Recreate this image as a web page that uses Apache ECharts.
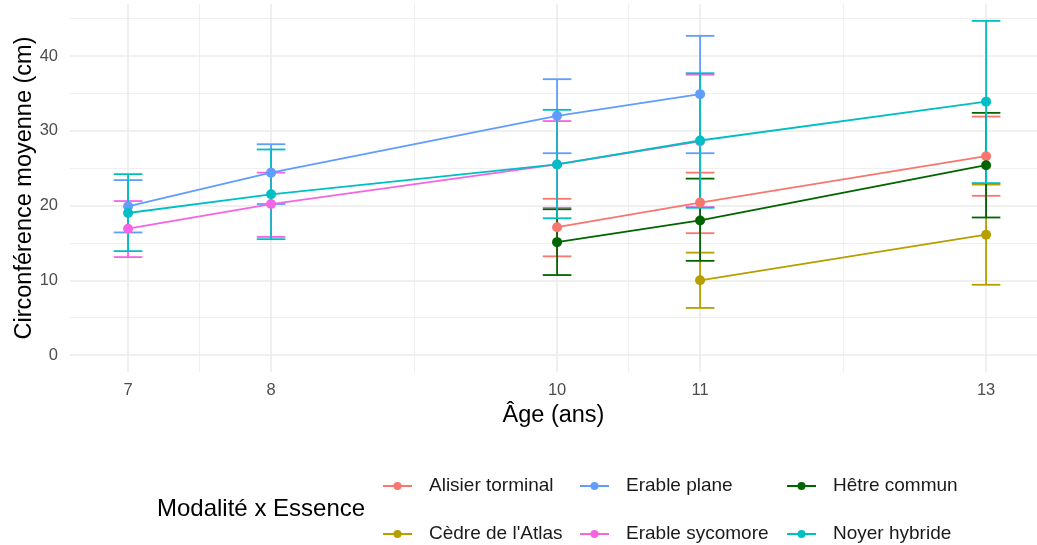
<!DOCTYPE html>
<html lang="fr">
<head>
    <meta charset="UTF-8">
    <title>Circonférence moyenne</title>
    <style>
        *{
            margin: 0;
            padding: 0;
        }
        .main{
            width: 1037px;
            height: 545px;
            background: #ffffff;
        }
    </style>
    <script src="https://cdn.jsdelivr.net/npm/echarts@6/dist/echarts.min.js"></script>
</head>
<body>
<div class="main"></div>
<script>
    // ticks and grid
    const xTicks = [7, 8, 10, 11, 13];
    const xMinor = [7.5, 9, 10.5, 12];
    const yTicks = [0, 10, 20, 30, 40];
    const yMinor = [5, 15, 25, 35, 45];

    const essences = ['Alisier torminal', "Cèdre de l'Atlas", 'Erable plane', 'Erable sycomore', 'Hêtre commun', 'Noyer hybride'];
    const colors = ['#F8766D', '#B79F00', '#619CFF', '#F564E3', '#006400', '#00BFC4'];

    // age, moyenne, borne basse, borne haute
    const alisierAge = [10, 11, 13];
    const alisierMean = [17.1, 20.4, 26.6];
    const alisierLow = [13.2, 16.3, 21.3];
    const alisierHigh = [20.9, 24.4, 31.9];

    const cedreAge = [11, 13];
    const cedreMean = [10.0, 16.1];
    const cedreLow = [6.3, 9.4];
    const cedreHigh = [13.7, 22.8];

    const planeAge = [7, 8, 10, 11];
    const planeMean = [19.9, 24.4, 32.0, 34.9];
    const planeLow = [16.4, 20.2, 27.0, 27.0];
    const planeHigh = [23.4, 28.2, 36.9, 42.7];

    const sycoAge = [7, 8, 10, 11];
    const sycoMean = [16.9, 20.2, 25.5, 28.6];
    const sycoLow = [13.1, 15.8, 19.7, 19.8];
    const sycoHigh = [20.6, 24.4, 31.3, 37.5];

    const hetreAge = [10, 11, 13];
    const hetreMean = [15.1, 18.0, 25.4];
    const hetreLow = [10.7, 12.6, 18.4];
    const hetreHigh = [19.5, 23.6, 32.4];

    const noyerAge = [7, 8, 10, 11, 13];
    const noyerMean = [19.0, 21.5, 25.5, 28.7, 33.9];
    const noyerLow = [13.9, 15.5, 18.3, 19.7, 23.0];
    const noyerHigh = [24.2, 27.5, 32.8, 37.7, 44.7];

    const groups = [
        [alisierAge, alisierMean, alisierLow, alisierHigh],
        [cedreAge, cedreMean, cedreLow, cedreHigh],
        [planeAge, planeMean, planeLow, planeHigh],
        [sycoAge, sycoMean, sycoLow, sycoHigh],
        [hetreAge, hetreMean, hetreLow, hetreHigh],
        [noyerAge, noyerMean, noyerLow, noyerHigh]
    ];

    const font = 'Liberation Sans';
    let main = document.querySelector('.main');
    let chart = echarts.init(main);

    let series = [];
    // grid lines
    series.push({
        type: 'line',
        name: 'grille',
        data: [],
        z: 1,
        markLine: {
            silent: true,
            symbol: 'none',
            label: {show: false},
            animation: false,
            data: [
                ...yTicks.map(v => ({yAxis: v, lineStyle: {color: '#EBEBEB', width: 1.6, type: 'solid'}})),
                ...yMinor.map(v => ({yAxis: v, lineStyle: {color: '#EBEBEB', width: 0.8, type: 'solid'}})),
                ...xTicks.map(v => ({xAxis: v, lineStyle: {color: '#EBEBEB', width: 1.6, type: 'solid'}})),
                ...xMinor.map(v => ({xAxis: v, lineStyle: {color: '#EBEBEB', width: 0.8, type: 'solid'}}))
            ]
        }
    });

    groups.forEach((g, i) => {
        let color = colors[i];
        series.push({
            type: 'custom',
            name: essences[i] + ' (ET)',
            z: 10 + i,
            data: g[0].map((a, k) => [a, g[2][k], g[3][k]]),
            renderItem: function (params, api) {
                let x = api.value(0);
                let top = api.coord([x, api.value(2)]);
                let bot = api.coord([x, api.value(1)]);
                let half = api.size([0.1, 0])[0];
                let style = {stroke: color, lineWidth: 1.8};
                return {
                    type: 'group',
                    children: [
                        {type: 'line', shape: {x1: top[0], y1: top[1], x2: bot[0], y2: bot[1]}, style},
                        {type: 'line', shape: {x1: top[0] - half, y1: top[1], x2: top[0] + half, y2: top[1]}, style},
                        {type: 'line', shape: {x1: bot[0] - half, y1: bot[1], x2: bot[0] + half, y2: bot[1]}, style}
                    ]
                };
            }
        });
    });

    groups.forEach((g, i) => {
        series.push({
            type: 'line',
            name: essences[i],
            z: 20 + i,
            data: g[0].map((a, k) => [a, g[1][k]]),
            symbol: 'circle',
            symbolSize: 10,
            showSymbol: true,
            color: colors[i],
            lineStyle: {width: 1.8, color: colors[i]},
            itemStyle: {color: colors[i]}
        });
    });

    const legendCommon = {
        orient: 'vertical',
        top: 476,
        padding: 0,
        itemWidth: 29,
        itemHeight: 10,
        itemGap: 28,
        selectedMode: false,
        textStyle: {fontFamily: font, fontSize: 19, color: '#1a1a1a', lineHeight: 20, padding: [0, 0, 0, 12]}
    };

    let option = {
        animation: false,
        backgroundColor: '#ffffff',
        textStyle: {fontFamily: font},
        title: {
            text: 'Modalité x Essence',
            left: 157,
            top: 497,
            padding: 0,
            textStyle: {fontFamily: font, fontSize: 24, fontWeight: 'normal', color: '#000000'}
        },
        legend: [
            Object.assign({left: 382, data: [essences[0], essences[1]]}, legendCommon),
            Object.assign({left: 579, data: [essences[2], essences[3]]}, legendCommon),
            Object.assign({left: 786, data: [essences[4], essences[5]]}, legendCommon)
        ],
        grid: {
            left: 70,
            right: 0,
            top: 4,
            bottom: 173,
            containLabel: false,
            outerBoundsMode: 'none'
        },
        xAxis: {
            type: 'value',
            min: 6.594,
            max: 13.356,
            name: 'Âge (ans)',
            nameLocation: 'middle',
            nameGap: 32,
            nameMoveOverlap: false,
            nameTextStyle: {fontFamily: font, fontSize: 23.5, color: '#000000'},
            axisLine: {show: false},
            axisTick: {show: false},
            splitLine: {show: false},
            axisLabel: {customValues: xTicks, color: '#4D4D4D', fontSize: 16.5, margin: 10, fontFamily: font}
        },
        yAxis: {
            type: 'value',
            min: -2.27,
            max: 46.96,
            name: 'Circonférence moyenne (cm)',
            nameLocation: 'middle',
            nameGap: 33,
            nameMoveOverlap: false,
            nameTextStyle: {fontFamily: font, fontSize: 23.5, color: '#000000'},
            axisLine: {show: false},
            axisTick: {show: false},
            splitLine: {show: false},
            axisLabel: {customValues: yTicks, color: '#4D4D4D', fontSize: 16.5, margin: 12, fontFamily: font}
        },
        series
    };
    chart.setOption(option);
</script>
</body>
</html>
